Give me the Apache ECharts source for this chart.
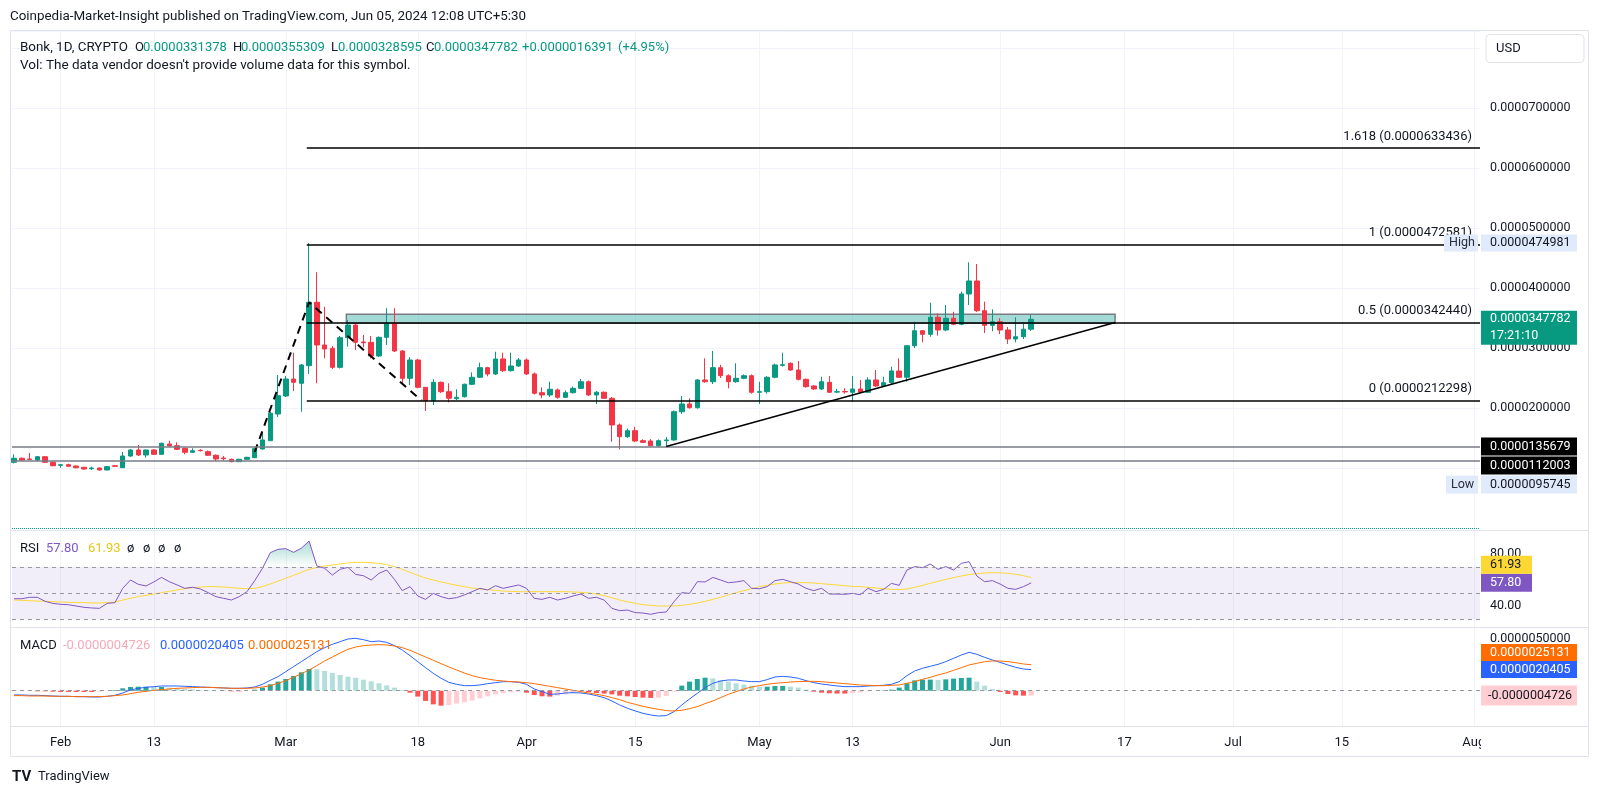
<!DOCTYPE html>
<html><head><meta charset="utf-8">
<script src="https://cdn.jsdelivr.net/npm/echarts@6/dist/echarts.min.js"></script>
<style>html,body{margin:0;padding:0;background:#fff;}#c{width:1600px;height:796px;}</style>
</head><body><div id="c"></div>
<script>
// ---------- DATA (daily candles, index 0 = 2024-01-26) ----------
const startDate = '2024-01-26';
const tickIndex = [6, 18, 35, 52, 66, 80, 96, 108, 127, 143, 157, 171, 188];
const tickText  = ['Feb', '13', 'Mar', '18', 'Apr', '15', 'May', '13', 'Jun', '17', 'Jul', '15', 'Aug'];

const openPrices = [1.095e-5,1.162e-5,1.150e-5,1.133e-5,1.188e-5,1.095e-5,1.045e-5,1.055e-5,1.033e-5,1.012e-5,
0.988e-5,1.000e-5,0.967e-5,1.038e-5,1.005e-5,1.200e-5,1.300e-5,1.217e-5,1.300e-5,1.228e-5,
1.400e-5,1.372e-5,1.328e-5,1.262e-5,1.295e-5,1.272e-5,1.212e-5,1.167e-5,1.145e-5,1.105e-5,
1.145e-5,1.172e-5,1.317e-5,1.455e-5,1.900e-5,2.200e-5,2.483e-5,2.412e-5,2.705e-5,3.762e-5,
3.050e-5,2.995e-5,2.678e-5,3.172e-5,3.383e-5,3.100e-5,3.095e-5,2.867e-5,3.178e-5,3.412e-5,
2.950e-5,2.495e-5,2.800e-5,2.345e-5,2.122e-5,2.428e-5,2.272e-5,2.155e-5,2.188e-5,2.395e-5,
2.512e-5,2.672e-5,2.567e-5,2.817e-5,2.622e-5,2.700e-5,2.800e-5,2.567e-5,2.255e-5,2.217e-5,
2.300e-5,2.178e-5,2.255e-5,2.328e-5,2.438e-5,2.217e-5,2.262e-5,2.162e-5,1.717e-5,1.522e-5,
1.622e-5,1.455e-5,1.450e-5,1.372e-5,1.455e-5,1.467e-5,1.938e-5,2.067e-5,2.005e-5,2.467e-5,
2.438e-5,2.672e-5,2.538e-5,2.438e-5,2.495e-5,2.538e-5,2.262e-5,2.272e-5,2.512e-5,2.711e-5,
2.745e-5,2.633e-5,2.478e-5,2.367e-5,2.317e-5,2.428e-5,2.265e-5,2.275e-5,2.262e-5,2.317e-5,
2.262e-5,2.467e-5,2.367e-5,2.422e-5,2.617e-5,2.512e-5,3.038e-5,3.288e-5,3.228e-5,3.512e-5,
3.300e-5,3.495e-5,3.395e-5,3.900e-5,4.117e-5,3.622e-5,3.378e-5,3.438e-5,3.300e-5,3.150e-5,
3.188e-5,3.31378e-5];
const closePrices = [1.162e-5,1.133e-5,1.142e-5,1.188e-5,1.095e-5,1.038e-5,1.055e-5,1.028e-5,1.005e-5,0.983e-5,
1.000e-5,0.967e-5,1.022e-5,1.028e-5,1.200e-5,1.300e-5,1.217e-5,1.300e-5,1.228e-5,1.412e-5,
1.367e-5,1.312e-5,1.262e-5,1.288e-5,1.288e-5,1.212e-5,1.150e-5,1.155e-5,1.105e-5,1.145e-5,
1.178e-5,1.322e-5,1.467e-5,1.912e-5,2.205e-5,2.483e-5,2.428e-5,2.717e-5,3.762e-5,3.050e-5,
2.983e-5,2.678e-5,3.172e-5,3.383e-5,3.095e-5,3.088e-5,2.867e-5,3.178e-5,3.412e-5,2.950e-5,
2.495e-5,2.800e-5,2.345e-5,2.122e-5,2.428e-5,2.272e-5,2.162e-5,2.178e-5,2.395e-5,2.512e-5,
2.672e-5,2.567e-5,2.817e-5,2.622e-5,2.700e-5,2.800e-5,2.567e-5,2.245e-5,2.217e-5,2.312e-5,
2.178e-5,2.255e-5,2.328e-5,2.438e-5,2.217e-5,2.262e-5,2.162e-5,1.717e-5,1.522e-5,1.622e-5,
1.450e-5,1.428e-5,1.372e-5,1.455e-5,1.467e-5,1.938e-5,2.067e-5,2.005e-5,2.467e-5,2.438e-5,
2.672e-5,2.538e-5,2.438e-5,2.495e-5,2.538e-5,2.262e-5,2.272e-5,2.512e-5,2.717e-5,2.722e-5,
2.633e-5,2.478e-5,2.355e-5,2.317e-5,2.438e-5,2.262e-5,2.272e-5,2.268e-5,2.317e-5,2.262e-5,
2.467e-5,2.367e-5,2.422e-5,2.617e-5,2.512e-5,3.038e-5,3.288e-5,3.228e-5,3.512e-5,3.300e-5,
3.495e-5,3.395e-5,3.900e-5,4.117e-5,3.622e-5,3.378e-5,3.438e-5,3.300e-5,3.150e-5,3.188e-5,
3.31391e-5,3.47782e-5];
const lowPrices = [1.075e-5,1.117e-5,1.133e-5,1.117e-5,1.083e-5,1.028e-5,1.005e-5,1.017e-5,0.995e-5,0.972e-5,
0.967e-5,0.95745e-5,0.962e-5,1.022e-5,1.000e-5,1.183e-5,1.200e-5,1.172e-5,1.217e-5,1.217e-5,
1.355e-5,1.300e-5,1.228e-5,1.250e-5,1.275e-5,1.200e-5,1.117e-5,1.122e-5,1.095e-5,1.100e-5,
1.133e-5,1.162e-5,1.308e-5,1.450e-5,1.850e-5,2.183e-5,2.283e-5,1.938e-5,2.567e-5,2.412e-5,
2.828e-5,2.650e-5,2.658e-5,3.022e-5,2.967e-5,3.012e-5,2.828e-5,2.850e-5,3.050e-5,2.933e-5,
2.412e-5,2.383e-5,2.328e-5,1.950e-5,2.050e-5,2.250e-5,2.095e-5,2.133e-5,2.175e-5,2.383e-5,
2.500e-5,2.528e-5,2.550e-5,2.600e-5,2.608e-5,2.683e-5,2.550e-5,2.225e-5,2.162e-5,2.183e-5,
2.155e-5,2.167e-5,2.242e-5,2.317e-5,2.200e-5,2.067e-5,2.150e-5,1.438e-5,1.312e-5,1.500e-5,
1.433e-5,1.417e-5,1.362e-5,1.350e-5,1.35679e-5,1.455e-5,1.900e-5,1.990e-5,1.990e-5,2.420e-5,
2.400e-5,2.500e-5,2.328e-5,2.420e-5,2.480e-5,2.240e-5,2.067e-5,2.240e-5,2.495e-5,2.690e-5,
2.617e-5,2.460e-5,2.340e-5,2.300e-5,2.300e-5,2.250e-5,2.250e-5,2.240e-5,2.105e-5,2.250e-5,
2.250e-5,2.350e-5,2.350e-5,2.400e-5,2.500e-5,2.438e-5,3.000e-5,3.095e-5,3.188e-5,3.205e-5,
3.280e-5,3.380e-5,3.380e-5,3.717e-5,3.600e-5,3.250e-5,3.280e-5,3.230e-5,3.067e-5,3.095e-5,
3.150e-5,3.28595e-5];
const highPrices = [1.228e-5,1.175e-5,1.250e-5,1.200e-5,1.200e-5,1.108e-5,1.067e-5,1.072e-5,1.042e-5,1.017e-5,
1.022e-5,1.008e-5,1.033e-5,1.045e-5,1.267e-5,1.317e-5,1.383e-5,1.308e-5,1.317e-5,1.422e-5,
1.455e-5,1.428e-5,1.338e-5,1.328e-5,1.312e-5,1.292e-5,1.225e-5,1.200e-5,1.158e-5,1.155e-5,
1.188e-5,1.342e-5,1.583e-5,1.933e-5,2.550e-5,2.533e-5,2.922e-5,2.733e-5,4.74981e-5,4.262e-5,
3.688e-5,3.033e-5,3.200e-5,3.467e-5,3.400e-5,3.217e-5,3.200e-5,3.192e-5,3.662e-5,3.662e-5,
2.967e-5,2.845e-5,2.817e-5,2.350e-5,2.478e-5,2.442e-5,2.412e-5,2.312e-5,2.408e-5,2.595e-5,
2.755e-5,2.688e-5,2.938e-5,2.922e-5,2.922e-5,2.833e-5,2.825e-5,2.592e-5,2.345e-5,2.438e-5,
2.325e-5,2.292e-5,2.358e-5,2.483e-5,2.458e-5,2.283e-5,2.275e-5,2.183e-5,1.742e-5,1.658e-5,
1.688e-5,1.478e-5,1.483e-5,1.475e-5,1.517e-5,1.960e-5,2.200e-5,2.162e-5,2.480e-5,2.828e-5,
2.950e-5,2.720e-5,2.560e-5,2.745e-5,2.560e-5,2.560e-5,2.438e-5,2.530e-5,2.740e-5,2.922e-5,
2.760e-5,2.783e-5,2.490e-5,2.380e-5,2.522e-5,2.533e-5,2.320e-5,2.330e-5,2.533e-5,2.467e-5,
2.512e-5,2.633e-5,2.522e-5,2.688e-5,2.828e-5,3.050e-5,3.438e-5,3.300e-5,3.755e-5,3.578e-5,
3.717e-5,3.605e-5,3.938e-5,4.428e-5,4.400e-5,3.772e-5,3.645e-5,3.495e-5,3.350e-5,3.512e-5,
3.420e-5,3.55309e-5];

const rsiValues = [45.6,45.6,46.7,46.7,43.6,42.0,41.3,41.0,40.0,39.0,
38.5,38.2,42.0,42.6,53.6,60.0,56.7,55.4,58.5,62.0,
58.7,56.2,53.6,54.4,53.1,50.3,47.2,45.9,44.6,47.2,
51.0,59.5,69.0,81.0,83.6,84.1,81.3,84.4,90.0,70.8,
69.0,63.8,68.2,69.7,64.3,63.3,60.0,65.1,67.7,60.5,
51.8,54.9,47.7,45.1,49.7,47.2,45.6,46.4,48.5,51.0,
53.6,52.3,55.6,53.6,54.9,56.2,53.6,45.9,45.1,46.7,
44.6,45.9,47.7,49.2,45.9,46.7,44.6,38.2,36.4,36.9,
34.9,34.6,33.6,34.9,35.4,43.3,50.3,49.7,58.7,58.5,
62.0,60.0,57.9,58.5,59.5,53.6,53.3,54.9,59.5,60.5,
58.7,56.9,53.6,51.8,53.6,49.2,49.2,49.0,49.7,48.7,
53.6,51.0,52.8,57.4,55.9,67.7,70.3,69.5,72.3,68.2,
70.3,67.7,72.8,74.1,63.1,58.7,59.5,56.9,53.6,52.8,
54.9,57.80];
const rsiMAValues = [44.6,44.35,44.1,43.8,43.6,43.3,43.1,42.8,42.6,42.6,
42.3,42.3,42.6,43.1,44.6,45.9,47.2,48.2,49.2,50.3,
51.3,52.3,53.3,54.1,54.6,54.9,54.9,54.6,54.1,53.6,
53.3,53.6,54.9,56.9,59.2,61.3,63.6,65.9,68.2,69.7,
70.8,71.5,72.3,73.1,73.6,73.6,73.3,72.8,71.8,70.3,
68.2,65.9,63.6,61.5,60.0,58.5,57.2,55.9,54.9,53.8,
53.1,52.6,52.05,51.5,51.3,51.0,51.0,51.0,51.0,51.0,
51.0,51.0,50.8,50.5,50.0,49.2,47.95,46.4,44.6,43.3,
42.05,41.0,40.5,40.0,40.0,40.0,40.5,41.3,42.3,43.6,
45.1,46.7,48.5,50.3,51.8,53.3,54.9,55.9,56.9,57.7,
57.95,57.95,57.95,57.7,57.2,56.6,56.2,55.6,55.1,54.9,
54.4,53.8,53.3,52.8,52.6,53.1,54.4,55.9,57.4,59.0,
60.5,61.8,63.1,64.1,64.9,65.4,65.6,65.6,65.1,64.4,
63.3,61.93];

const macdValues = [-0.414e-6,-0.414e-6,-0.446e-6,-0.446e-6,-0.478e-6,-0.51e-6,-0.543e-6,-0.543e-6,-0.575e-6,-0.575e-6,
-0.607e-6,-0.607e-6,-0.543e-6,-0.446e-6,-0.22e-6,0.07e-6,0.23e-6,0.33e-6,0.39e-6,0.457e-6,
0.457e-6,0.457e-6,0.425e-6,0.393e-6,0.36e-6,0.328e-6,0.296e-6,0.264e-6,0.231e-6,0.231e-6,
0.264e-6,0.36e-6,0.618e-6,1.005e-6,1.36e-6,1.844e-6,2.328e-6,2.812e-6,3.296e-6,3.78e-6,
4.167e-6,4.49e-6,4.747e-6,5.006e-6,5.07e-6,4.94e-6,4.747e-6,4.81e-6,4.68e-6,4.36e-6,
3.94e-6,3.39e-6,2.812e-6,2.23e-6,1.68e-6,1.2e-6,0.81e-6,0.618e-6,0.49e-6,0.49e-6,
0.554e-6,0.683e-6,0.78e-6,0.877e-6,0.877e-6,0.81e-6,0.618e-6,0.167e-6,-0.09e-6,-0.35e-6,
-0.317e-6,-0.22e-6,-0.188e-6,-0.22e-6,-0.317e-6,-0.478e-6,-0.672e-6,-0.994e-6,-1.38e-6,-1.70e-6,
-1.96e-6,-2.19e-6,-2.35e-6,-2.45e-6,-2.41e-6,-2.03e-6,-1.38e-6,-0.80e-6,-0.253e-6,0.296e-6,
0.715e-6,0.94e-6,1.038e-6,1.038e-6,0.94e-6,0.877e-6,0.877e-6,1.07e-6,1.328e-6,1.392e-6,
1.328e-6,1.2e-6,0.973e-6,0.78e-6,0.651e-6,0.554e-6,0.457e-6,0.393e-6,0.393e-6,0.393e-6,
0.457e-6,0.49e-6,0.522e-6,0.618e-6,0.877e-6,1.457e-6,1.909e-6,2.166e-6,2.36e-6,2.554e-6,
2.812e-6,3.135e-6,3.457e-6,3.715e-6,3.522e-6,3.231e-6,2.973e-6,2.747e-6,2.49e-6,2.264e-6,
2.102e-6,2.0405e-6];
const signalValues = [-0.478e-6,-0.478e-6,-0.51e-6,-0.51e-6,-0.51e-6,-0.543e-6,-0.543e-6,-0.543e-6,-0.575e-6,-0.575e-6,
-0.575e-6,-0.575e-6,-0.543e-6,-0.478e-6,-0.414e-6,-0.285e-6,-0.156e-6,-0.06e-6,0.038e-6,0.102e-6,
0.167e-6,0.231e-6,0.264e-6,0.296e-6,0.328e-6,0.328e-6,0.296e-6,0.264e-6,0.231e-6,0.231e-6,
0.231e-6,0.264e-6,0.36e-6,0.49e-6,0.715e-6,0.973e-6,1.296e-6,1.65e-6,2.0e-6,2.425e-6,
2.876e-6,3.264e-6,3.65e-6,4.006e-6,4.23e-6,4.36e-6,4.425e-6,4.457e-6,4.425e-6,4.328e-6,
4.167e-6,3.909e-6,3.586e-6,3.264e-6,2.941e-6,2.618e-6,2.296e-6,2.006e-6,1.715e-6,1.457e-6,
1.264e-6,1.135e-6,1.006e-6,0.941e-6,0.877e-6,0.844e-6,0.78e-6,0.683e-6,0.554e-6,0.425e-6,
0.296e-6,0.167e-6,0.038e-6,-0.09e-6,-0.22e-6,-0.35e-6,-0.478e-6,-0.672e-6,-0.866e-6,-1.124e-6,
-1.317e-6,-1.51e-6,-1.672e-6,-1.8e-6,-1.93e-6,-1.962e-6,-1.898e-6,-1.736e-6,-1.543e-6,-1.252e-6,
-0.994e-6,-0.672e-6,-0.35e-6,-0.09e-6,0.167e-6,0.36e-6,0.49e-6,0.618e-6,0.715e-6,0.78e-6,
0.844e-6,0.877e-6,0.909e-6,0.909e-6,0.877e-6,0.812e-6,0.748e-6,0.683e-6,0.618e-6,0.554e-6,
0.522e-6,0.49e-6,0.49e-6,0.522e-6,0.554e-6,0.715e-6,0.877e-6,1.102e-6,1.296e-6,1.522e-6,
1.715e-6,1.973e-6,2.23e-6,2.49e-6,2.65e-6,2.812e-6,2.876e-6,2.876e-6,2.812e-6,2.715e-6,
2.587e-6,2.5131e-6];
const histValues = [0.04e-6,0.0,-0.03e-6,-0.06e-6,-0.06e-6,-0.09e-6,-0.12e-6,-0.12e-6,-0.12e-6,-0.12e-6,
-0.12e-6,-0.09e-6,-0.03e-6,0.07e-6,0.23e-6,0.36e-6,0.39e-6,0.39e-6,0.36e-6,0.36e-6,
0.3e-6,0.23e-6,0.17e-6,0.135e-6,0.07e-6,0.04e-6,0.006e-6,-0.026e-6,-0.058e-6,-0.058e-6,
-0.03e-6,0.1e-6,0.3e-6,0.62e-6,0.88e-6,1.135e-6,1.43e-6,1.78e-6,2.1e-6,2.07e-6,
1.91e-6,1.72e-6,1.52e-6,1.36e-6,1.26e-6,1.07e-6,0.91e-6,0.72e-6,0.52e-6,0.3e-6,
0.07e-6,-0.19e-6,-0.57e-6,-0.99e-6,-1.32e-6,-1.45e-6,-1.38e-6,-1.25e-6,-1.12e-6,-0.96e-6,
-0.74e-6,-0.54e-6,-0.35e-6,-0.25e-6,-0.15e-6,-0.09e-6,-0.19e-6,-0.41e-6,-0.54e-6,-0.57e-6,
-0.48e-6,-0.35e-6,-0.25e-6,-0.15e-6,-0.15e-6,-0.22e-6,-0.28e-6,-0.35e-6,-0.48e-6,-0.54e-6,
-0.61e-6,-0.67e-6,-0.7e-6,-0.67e-6,-0.51e-6,-0.09e-6,0.49e-6,0.88e-6,1.135e-6,1.26e-6,
1.2e-6,1.0e-6,0.88e-6,0.72e-6,0.59e-6,0.49e-6,0.39e-6,0.39e-6,0.46e-6,0.46e-6,
0.39e-6,0.3e-6,0.1e-6,-0.09e-6,-0.19e-6,-0.25e-6,-0.28e-6,-0.28e-6,-0.22e-6,-0.15e-6,
-0.06e-6,0.006e-6,0.04e-6,0.1e-6,0.3e-6,0.72e-6,1.0e-6,1.07e-6,1.07e-6,1.04e-6,
1.1e-6,1.17e-6,1.23e-6,1.26e-6,0.88e-6,0.49e-6,0.17e-6,-0.12e-6,-0.32e-6,-0.45e-6,
-0.48e-6,-0.4726e-6];

// drawings (in data coordinates: [day index, price])
const fibLevels = [1.618, 1, 0.5, 0];
const fibPrices = [0.0000633436, 0.0000472581, 0.0000342440, 0.0000212298];
const fibStart = 37.7;
const supportPrices = [0.0000135679, 0.0000112003];
const highPrice = 0.0000474981, lowPrice = 0.0000095745;
const trendLine = [[84, 0.0000135679], [141.8, 0.0000342440]];
const zigzag = [[31, 0.00001267], [38, 0.00003762], [52.5, 0.0000212298]];
const zoneBox = [[42.8, 0.00003562], [141.8, 0.00003412]];
const countdown = '17:21:10';

// ---------- CHART ----------
const FONT = 'Roboto, "Noto Sans", sans-serif';
const TXT = '#131722', UP = '#089981', DOWN = '#f23645', GRIDC = '#f0f3fa';
const X_MIN = -0.26, X_MAX = 188.8;
const n = closePrices.length;
const lastClose = closePrices[n - 1];

const candles = openPrices.map((o, i) => [i, o, closePrices[i], lowPrices[i], highPrices[i]]);
const chart = echarts.init(document.getElementById('c'), null, {renderer: 'canvas'});

function xAx(gi, showLabel) {
  return {
    type: 'value', gridIndex: gi, min: X_MIN, max: X_MAX,
    axisLine: {show: false},
    axisTick: {show: false, customValues: tickIndex},
    splitLine: {show: true, lineStyle: {color: GRIDC, width: 1}},
    axisLabel: showLabel ? {
      customValues: tickIndex, color: TXT, fontSize: 13, fontFamily: FONT, margin: 10,
      formatter: v => { const k = tickIndex.indexOf(Math.round(v)); return k >= 0 ? tickText[k] : ''; }
    } : {show: false}
  };
}

const histData = histValues.map((v, i) => {
  const p = i > 0 ? histValues[i - 1] : v;
  let c;
  if (v >= 0) c = v >= p ? '#26a69a' : '#b2dfdb';
  else c = v > p ? '#ffcdd2' : '#ff5252';
  return {value: [i, v], itemStyle: {color: c}};
});

const fibLines = fibLevels.map((lv, k) => [
  {coord: [fibStart, fibPrices[k]],
   label: {show: true, position: 'insideEndTop', distance: [8, 5], formatter: lv + ' (' + fibPrices[k].toFixed(10) + ')',
           color: TXT, fontSize: 13, fontFamily: FONT},
   lineStyle: {color: '#000', width: 1.5, type: 'solid'}},
  {coord: [X_MAX, fibPrices[k]]}
]);
const supLines = supportPrices.map(p => [
  {coord: [X_MIN, p], lineStyle: {color: '#787b86', width: 1.5, type: 'solid'}, label: {show: false}},
  {coord: [X_MAX, p]}
]);

const option = {
  animation: false,
  textStyle: {fontFamily: FONT},
  grid: [
    {left: 12, right: 120, top: 31, height: 497},
    {left: 12, right: 120, top: 531, height: 96},
    {left: 12, right: 120, top: 628, height: 98}
  ],
  xAxis: [xAx(0, false), xAx(1, false), xAx(2, true)],
  yAxis: [
    {type: 'value', gridIndex: 0, position: 'right', min: 0, max: 8.2833e-5, interval: 1e-5,
     axisLine: {show: false}, axisTick: {show: false},
     splitLine: {lineStyle: {color: GRIDC}},
     axisLabel: {margin: 10, color: TXT, fontSize: 12.5, fontFamily: FONT,
                 formatter: v => (v > 1.5e-5 && v < 7.5e-5) ? v.toFixed(10) : ''}},
    {type: 'value', gridIndex: 1, position: 'right', min: 23.85, max: 97.69,
     axisLine: {show: false}, axisTick: {show: false}, splitLine: {show: false},
     axisLabel: {customValues: [40, 80], margin: 10, color: TXT, fontSize: 12.5, fontFamily: FONT,
                 formatter: v => v.toFixed(2)}},
    {type: 'value', gridIndex: 2, position: 'right', min: -3.417e-6, max: 6.07e-6,
     axisLine: {show: false}, axisTick: {show: false}, splitLine: {show: false},
     axisLabel: {customValues: [5e-6], margin: 10, color: TXT, fontSize: 12.5, fontFamily: FONT,
                 formatter: v => v.toFixed(10)}}
  ],
  series: [
    {
      type: 'candlestick', name: 'Bonk', xAxisIndex: 0, yAxisIndex: 0,
      data: candles, encode: {x: 0, y: [1, 2, 3, 4]}, barWidth: 5,
      itemStyle: {color: UP, color0: DOWN, borderColor: UP, borderColor0: DOWN, borderWidth: 1},
      markArea: {
        silent: true,
        itemStyle: {color: 'rgba(38,166,154,0.42)', borderColor: '#787b86', borderWidth: 1.5},
        data: [[{coord: zoneBox[0]}, {coord: zoneBox[1]}]]
      },
      markLine: {
        silent: true, symbol: ['none', 'none'], animation: false,
        label: {show: false},
        data: [
          {yAxis: highPrice, lineStyle: {color: '#9598a1', type: 'dotted', width: 1}},
          {yAxis: lowPrice, lineStyle: {color: '#9598a1', type: 'dotted', width: 1}},
          {yAxis: lastClose, lineStyle: {color: UP, type: 'dotted', width: 1}},
          ...supLines,
          ...fibLines,
          [{coord: trendLine[0], lineStyle: {color: '#000', width: 1.5, type: 'solid'}}, {coord: trendLine[1]}]
        ]
      }
    },
    {
      type: 'line', name: 'zigzag', xAxisIndex: 0, yAxisIndex: 0, data: zigzag,
      symbol: 'none', silent: true, z: 3,
      lineStyle: {color: '#000', width: 2, type: [8, 6]}
    },
    {
      id: 'rsi', type: 'line', name: 'RSI', xAxisIndex: 1, yAxisIndex: 1,
      data: rsiValues.map((v, i) => [i, v]), symbol: 'none', z: 4,
      lineStyle: {color: '#7e57c2', width: 1},
      markArea: {silent: true, itemStyle: {color: 'rgba(126,87,194,0.1)'}, data: [[{yAxis: 70}, {yAxis: 30}]]},
      markLine: {
        silent: true, symbol: ['none', 'none'], label: {show: false},
        lineStyle: {color: '#9598a1', type: [4, 4], width: 1},
        data: [{yAxis: 70}, {yAxis: 50}, {yAxis: 30}]
      }
    },
    {
      type: 'line', name: 'RSI MA', xAxisIndex: 1, yAxisIndex: 1,
      data: rsiMAValues.map((v, i) => [i, v]), symbol: 'none', z: 3,
      lineStyle: {color: '#fdd835', width: 1}
    },
    {
      type: 'bar', name: 'Histogram', xAxisIndex: 2, yAxisIndex: 2, data: histData, barWidth: 5,
      markLine: {
        silent: true, symbol: ['none', 'none'], label: {show: false},
        lineStyle: {color: '#9598a1', type: [4, 4], width: 1},
        data: [{yAxis: 0}]
      }
    },
    {
      type: 'line', name: 'MACD', xAxisIndex: 2, yAxisIndex: 2,
      data: macdValues.map((v, i) => [i, v]), symbol: 'none', z: 4,
      lineStyle: {color: '#2962ff', width: 1}
    },
    {
      type: 'line', name: 'Signal', xAxisIndex: 2, yAxisIndex: 2,
      data: signalValues.map((v, i) => [i, v]), symbol: 'none', z: 4,
      lineStyle: {color: '#ff6d00', width: 1}
    }
  ]
};
chart.setOption(option);

// ---------- overlays (text, axis value boxes) ----------
function txt(x, y, text, color, size, extra) {
  return Object.assign({type: 'text', x: x, y: y, z: 101, silent: true,
    style: Object.assign({text: text, fill: color, fontSize: size || 13, fontFamily: FONT, verticalAlign: 'middle', align: 'left'}, (extra && extra.style) || {})},
    extra && extra.z ? {z: extra.z} : {});
}
function rect(x, y, w, h, fill, z, stroke) {
  return {type: 'rect', z: z || 100, silent: true, shape: {x: x, y: y, width: w, height: h},
          style: stroke ? {fill: fill, stroke: stroke, lineWidth: 1} : {fill: fill}};
}
function hline(x1, x2, y, color) {
  return {type: 'line', z: 90, silent: true, shape: {x1: x1, y1: y, x2: x2, y2: y}, style: {stroke: color, lineWidth: 1}};
}
const g = [];
// frame
g.push({type: 'rect', z: 90, silent: true, shape: {x: 10.5, y: 30.5, width: 1578, height: 726}, style: {fill: 'none', stroke: '#e0e3eb', lineWidth: 1}});
g.push(hline(10, 1588, 530.5, '#e0e3eb'));
g.push(hline(10, 1588, 627.5, '#e0e3eb'));
g.push(hline(10, 1588, 726.5, '#e0e3eb'));
// clip area right of the x axis (Aug label cut)
g.push(rect(1481, 728, 106, 27, '#fff', 95));

// header
g.push(txt(10, 17, 'Coinpedia-Market-Insight published on TradingView.com, Jun 05, 2024 12:08 UTC+5:30', TXT, 13.4));
const prevClose = closePrices[n - 2];
const chg = lastClose - prevClose;
g.push(txt(20, 48, 'Bonk, 1D, CRYPTO', TXT, 13.4));
const leg = [['O', openPrices[n - 1], 135], ['H', highPrices[n - 1], 233], ['L', lowPrices[n - 1], 331], ['C', lastClose, 426]];
leg.forEach(l => { g.push(txt(l[2], 48, l[0], TXT, 13)); g.push(txt(l[2] + (l[0] === 'L' ? 7 : 8), 48, l[1].toFixed(10), UP, 13)); });
g.push(txt(522, 48, '+' + chg.toFixed(10), UP, 13));
g.push(txt(618, 48, '(+' + (chg / prevClose * 100).toFixed(2) + '%)', UP, 13));
g.push(txt(20, 66, "Vol: The data vendor doesn't provide volume data for this symbol.", TXT, 13.5));

// USD box
g.push({type: 'rect', z: 100, silent: true, shape: {x: 1486, y: 34.5, width: 98, height: 28, r: 4}, style: {fill: '#fff', stroke: '#e0e3eb', lineWidth: 1}});
g.push(txt(1496, 48.5, 'USD', TXT, 13));

// price pane value boxes
const yP = v => chart.convertToPixel({yAxisIndex: 0}, v);
const BX = 1481, BW = 96;
let yc = yP(highPrice);
g.push(rect(1444, yc - 8.5, 34, 17, '#dfeafb'));
g.push(txt(1449, yc, 'High', '#2a2e39', 12.5));
g.push(rect(BX, yc - 8.5, BW, 17, '#dfeafb'));
g.push(txt(1490, yc, highPrice.toFixed(10), TXT, 12.5));

yc = yP(lastClose);
g.push(rect(BX, yc - 8.5, BW, 34, UP));
g.push(txt(1490, yc, lastClose.toFixed(10), '#fff', 12.5));
g.push(txt(1490, yc + 16.5, countdown, '#fff', 12.5));

let prevBottom = -1e9;
const stacked = [[supportPrices[0], '#000', '#fff', null], [supportPrices[1], '#000', '#fff', null], [lowPrice, '#dfeafb', TXT, 'Low']];
stacked.forEach(s => {
  const c = yP(s[0]);
  const top = Math.max(c - 9, prevBottom + 1);
  g.push(rect(BX, top, BW, 18, s[1]));
  g.push(txt(1490, top + 9, s[0].toFixed(10), s[2], 12.5));
  if (s[3]) { g.push(rect(1446, top, 32, 18, '#dfeafb')); g.push(txt(1451, top + 9, s[3], '#2a2e39', 12.5)); }
  prevBottom = top + 18;
});

// RSI
const yR = v => chart.convertToPixel({yAxisIndex: 1}, v);
const rsiLast = rsiValues[n - 1], maLast = rsiMAValues[n - 1];
const rTop = yR(rsiLast) - 9;
g.push(rect(BX, rTop, 51, 18, '#7e57c2'));
g.push(txt(1490, rTop + 9, rsiLast.toFixed(2), '#fff', 12.5));
const mTop = Math.min(yR(maLast) - 9, rTop - 18);
g.push(rect(BX, mTop, 51, 18, '#fdd835'));
g.push(txt(1490, mTop + 9, maLast.toFixed(2), TXT, 12.5));
g.push(txt(20, 549, 'RSI', TXT, 13));
g.push(txt(46, 549, rsiLast.toFixed(2), '#7e57c2', 13));
g.push(txt(88, 549, maLast.toFixed(2), '#e6c619', 13));
[127, 143, 158, 174].forEach(x => g.push(txt(x, 549, 'ø', TXT, 13)));

// MACD
const yM = v => chart.convertToPixel({yAxisIndex: 2}, v);
const macdLast = macdValues[n - 1], sigLast = signalValues[n - 1], histLast = histValues[n - 1];
const bTop = yM(macdLast) - 8.5;
g.push(rect(BX, bTop, BW, 17, '#2962ff'));
g.push(txt(1490, bTop + 8.5, macdLast.toFixed(10), '#fff', 12.5));
const oTop = Math.min(yM(sigLast) - 8.5, bTop - 17);
g.push(rect(BX, oTop, BW, 17, '#ff6d00'));
g.push(txt(1490, oTop + 8.5, sigLast.toFixed(10), '#fff', 12.5));
const hTop = Math.max(yM(histLast) - 10, bTop + 18);
g.push(rect(BX, hTop, BW, 20, '#ffcdd2'));
g.push(txt(1488, hTop + 10, histLast.toFixed(10), TXT, 12.5));
g.push(txt(20, 646, 'MACD', TXT, 13));
g.push(txt(63, 646, histLast.toFixed(10), '#f7a9b8', 13));
g.push(txt(160, 646, macdLast.toFixed(10), '#2962ff', 13));
g.push(txt(248, 646, sigLast.toFixed(10), '#ff6d00', 13));

// logo
g.push(txt(12, 777, 'TV', '#131722', 15, {style: {fontWeight: 'bold'}}));
g.push(txt(38, 777, 'TradingView', TXT, 13));

// overbought gradient fill of RSI
const y70 = yR(70), yTopR = yR(90);
chart.setOption({
  series: [{id: 'rsi', areaStyle: {origin: 70, color: new echarts.graphic.LinearGradient(0, yTopR, 0, y70,
    [{offset: 0, color: 'rgba(8,153,129,0.5)'}, {offset: 1, color: 'rgba(8,153,129,0)'}], true)}}],
  graphic: g
});
</script>
</body></html>
